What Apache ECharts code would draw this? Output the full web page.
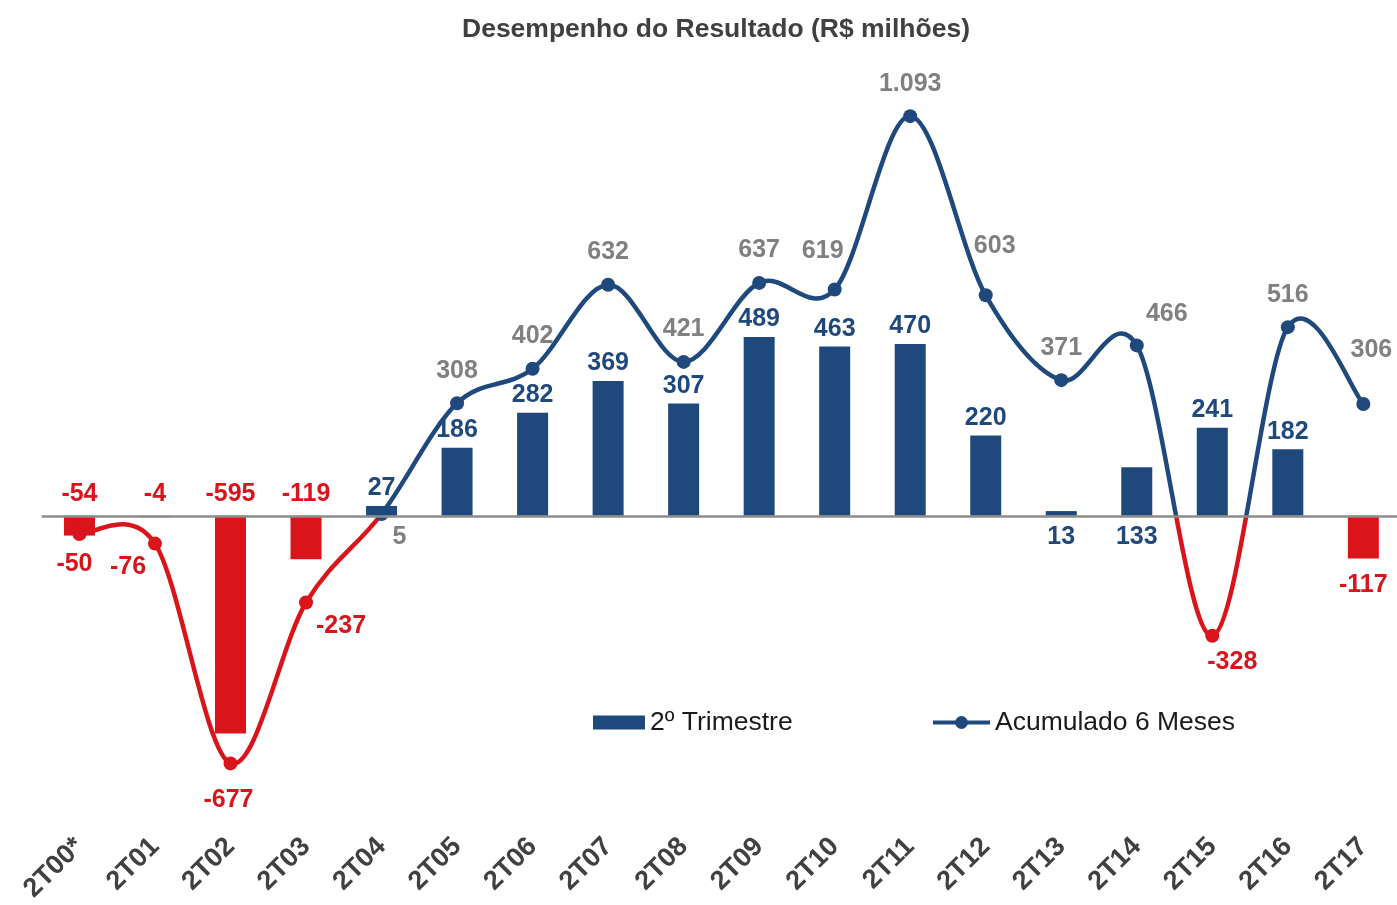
<!DOCTYPE html>
<html>
<head>
<meta charset="utf-8">
<script src="https://cdn.jsdelivr.net/npm/echarts@6/dist/echarts.min.js"></script>
<style>
html,body{margin:0;padding:0;background:#fff;overflow:hidden;width:1397px;height:905px;}
#chart{width:1420px;height:905px;}
</style>
</head>
<body>
<div id="chart"></div>
<script>
const categories = ['2T00*','2T01','2T02','2T03','2T04','2T05','2T06','2T07','2T08','2T09','2T10','2T11','2T12','2T13','2T14','2T15','2T16','2T17'];
const quarterValues = [-54,-4,-595,-119,27,186,282,369,307,489,463,470,220,13,133,241,182,-117];
const sixMonthValues = [-50,-76,-677,-237,5,308,402,632,421,637,619,1093,603,371,466,-328,516,306];
const valueLabels6M = ['-50','-76','-677','-237','5','308','402','632','421','637','619','1.093','603','371','466','-328','516','306'];

const BLUE = '#1f497d';
const RED = '#d9141b';
const GRAY = '#808080';
const LABEL_FONT = 'Liberation Sans, Arial, sans-serif';

// label placement (style only)
const barLabelPos = quarterValues.map((v, i) => {
  if (i === 13 || i === 14) return {position: 'bottom', distance: 9};
  if (i === 17) return {position: 'bottom', distance: 14};
  if (v < 0) return {position: 'top', distance: 9};
  return {position: 'top', distance: 5};
});
const lineLabelPos = {
  0: {position: 'bottom', distance: 10, offset: [-5, 0]},
  1: {position: 'bottom', distance: 4, offset: [-27, 0]},
  2: {position: 'bottom', distance: 17, offset: [-2, 0]},
  3: {position: 'bottom', distance: 4, offset: [35, 0]},
  4: {position: 'bottom', distance: 4, offset: [18, 0]},
  10: {position: 'top', distance: 19, offset: [-12, 0]},
  12: {position: 'top', distance: 30, offset: [9, 0]},
  14: {position: 'top', distance: 12, offset: [30, 0]},
  15: {position: 'bottom', distance: 7, offset: [20, 0]},
  17: {position: 'top', distance: 34, offset: [8, 0]}
};

const barData = quarterValues.map((v, i) => {
  const c = v < 0 ? RED : BLUE;
  return {
    value: v,
    itemStyle: {color: c},
    label: Object.assign({color: c}, barLabelPos[i])
  };
});
const lineData = sixMonthValues.map((v, i) => {
  const p = lineLabelPos[i] || (v < 0 ? {position: 'bottom', distance: 10} : {position: 'top', distance: 13});
  return {
    value: v,
    itemStyle: {color: v < 0 ? RED : BLUE},
    label: Object.assign({color: v < 0 ? RED : GRAY, formatter: valueLabels6M[i]}, p)
  };
});
const curveData = sixMonthValues.map((v, i) => [i, v]);

// smooth (Catmull-Rom style) segment between point i and i+1, drawn via the axis scales
function renderCurve(params, api) {
  const n = sixMonthValues.length;
  const i = params.dataIndex;
  if (i >= n - 1) return null;
  const P = k => {
    const kk = Math.max(0, Math.min(n - 1, k));
    return api.coord([kk, sixMonthValues[kk]]);
  };
  const p0 = P(i - 1), p1 = P(i), p2 = P(i + 1), p3 = P(i + 2);
  const t = 1 / 6;
  const zeroY = api.coord([0, 0])[1];
  const grad = new echarts.graphic.LinearGradient(0, zeroY - 0.5, 0, zeroY + 0.5, [
    {offset: 0, color: BLUE}, {offset: 0.5, color: BLUE},
    {offset: 0.5, color: RED}, {offset: 1, color: RED}
  ], true);
  return {
    type: 'bezierCurve',
    shape: {
      x1: p1[0], y1: p1[1],
      cpx1: p1[0] + (p2[0] - p0[0]) * t, cpy1: p1[1] + (p2[1] - p0[1]) * t,
      cpx2: p2[0] - (p3[0] - p1[0]) * t, cpy2: p2[1] - (p3[1] - p1[1]) * t,
      x2: p2[0], y2: p2[1]
    },
    style: {stroke: grad, lineWidth: 4.5, fill: null, lineCap: 'round'}
  };
}

const chart = echarts.init(document.getElementById('chart'));
chart.setOption({
  animation: false,
  backgroundColor: '#ffffff',
  title: {
    text: 'Desempenho do Resultado (R$ milhões)',
    left: 457,
    top: 11,
    textStyle: {fontFamily: 'Liberation Sans, Arial, sans-serif', fontWeight: 'bold', fontSize: 26.5, color: '#404040'}
  },
  legend: [
    {
      data: [{name: '2º Trimestre', icon: 'rect', itemStyle: {color: BLUE}}],
      left: 593, top: 709, padding: 0, itemWidth: 52, itemHeight: 14, itemGap: 5,
      textStyle: {fontFamily: 'Liberation Sans, Arial, sans-serif', fontSize: 26.5, color: '#1a1a1a'}
    },
    {
      data: [{name: 'Acumulado 6 Meses', itemStyle: {color: BLUE}, lineStyle: {color: BLUE, width: 4, opacity: 1}}],
      left: 931, top: 709, padding: 0, itemWidth: 57, itemHeight: 16, itemGap: 5,
      textStyle: {fontFamily: 'Liberation Sans, Arial, sans-serif', fontSize: 26.5, color: '#1a1a1a'}
    }
  ],
  grid: {left: 41.7, top: 77, width: 1359.4, height: 732, containLabel: false},
  xAxis: {
    type: 'category',
    data: categories,
    axisLine: {show: false, onZero: false},
    axisTick: {show: false},
    splitLine: {show: false},
    axisLabel: {
      rotate: 45, margin: 34, interval: 0,
      fontFamily: LABEL_FONT, fontWeight: 'bold', fontSize: 27, color: '#404040'
    }
  },
  yAxis: {
    type: 'value', min: -800, max: 1200, interval: 200,
    show: false, splitLine: {show: false}
  },
  series: [
    {
      name: '2º Trimestre',
      type: 'bar',
      data: barData,
      barWidth: 31,
      barMinHeight: 0,
      itemStyle: {color: BLUE},
      label: {show: true, fontFamily: LABEL_FONT, fontWeight: 'bold', fontSize: 25},
      markLine: {
        silent: true, symbol: 'none', label: {show: false},
        lineStyle: {color: '#8c8c8c', width: 2.5, type: 'solid'},
        data: [{yAxis: 0}]
      },
      z: 2
    },
    {
      name: 'curve',
      type: 'custom',
      data: curveData,
      encode: {x: 0, y: 1},
      renderItem: renderCurve,
      silent: true,
      z: 3
    },
    {
      name: 'Acumulado 6 Meses',
      type: 'line',
      data: lineData,
      symbol: 'circle',
      symbolSize: 14,
      itemStyle: {color: BLUE},
      lineStyle: {width: 4, color: BLUE, opacity: 0},
      label: {show: true, fontFamily: LABEL_FONT, fontWeight: 'bold', fontSize: 25},
      z: 4
    }
  ]
});
</script>
</body>
</html>
